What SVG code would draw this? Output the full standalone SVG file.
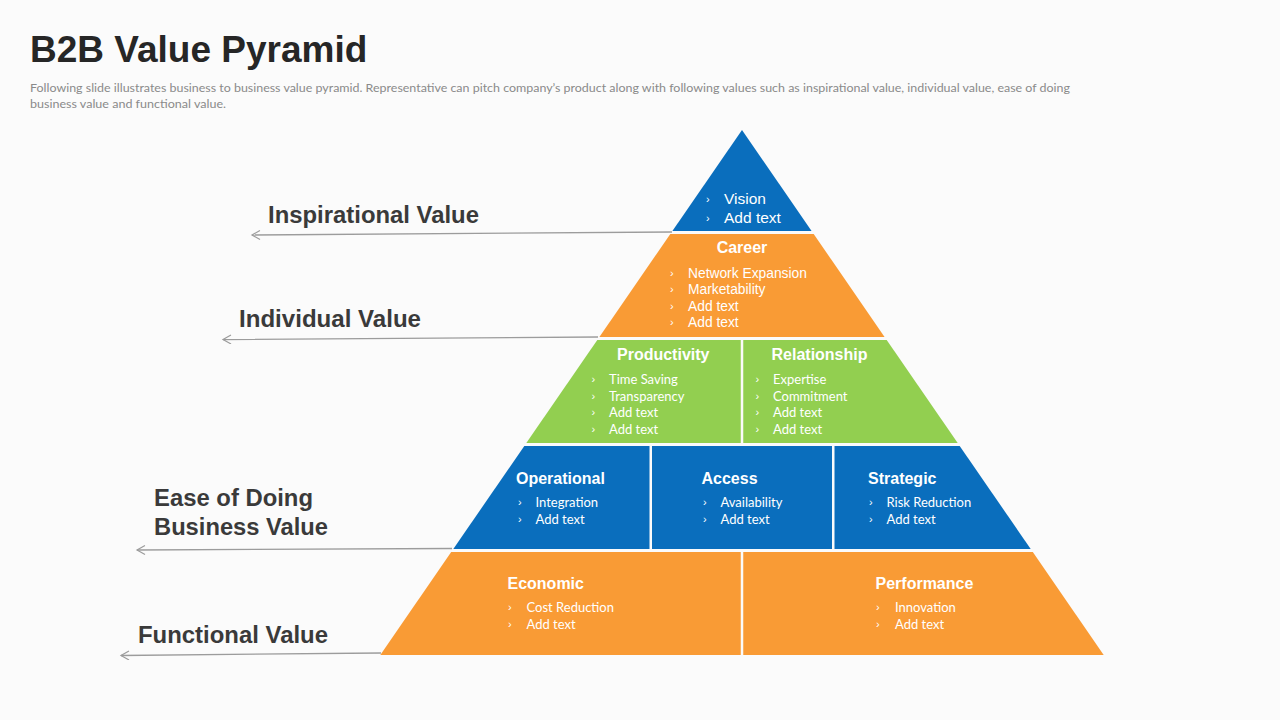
<svg xmlns="http://www.w3.org/2000/svg" width="1280" height="720" viewBox="0 0 1280 720">
<defs>
<style>
.title{font-family:"Liberation Sans",Arial,sans-serif;font-weight:bold;font-size:37px;fill:#262626}
.sub{font-family:Lato,"Liberation Sans",sans-serif;font-size:11.5px;fill:#8a8a8a}
.lbl{font-family:"Liberation Sans",Arial,sans-serif;font-weight:bold;font-size:23.5px;fill:#3a3a3a}
.hd{font-family:"Liberation Sans",Arial,sans-serif;font-weight:bold;font-size:16px;fill:#ffffff}
.it{font-family:"Liberation Sans",Arial,sans-serif;font-size:13.8px;fill:#ffffff}
.itv{font-family:"Liberation Sans",Arial,sans-serif;font-size:15.5px;fill:#ffffff}
.ic{font-family:Lato,"Liberation Sans",sans-serif;font-size:13px;fill:#ffffff}
.bu{font-family:"Liberation Sans",Arial,sans-serif;font-size:11px;fill:#ffffff}
.blue{fill:#0A6EBD}
.orange{fill:#F99B35}
.green{fill:#92CF50}
.conn{stroke:#9c9c9c;stroke-width:1.3;fill:none}
</style>
<marker id="arr" markerUnits="userSpaceOnUse" markerWidth="12" markerHeight="12" refX="9" refY="5" orient="auto">
<path d="M1,0.5 L9,5 L1,9.5" fill="none" stroke="#9c9c9c" stroke-width="1.2"/>
</marker>
</defs>
<rect x="0" y="0" width="1280" height="720" fill="#FBFBFB"/>

<g id="header">
<text class="title" x="30" y="62">B2B Value Pyramid</text>
<text class="sub" x="30" y="92" textLength="1040" lengthAdjust="spacingAndGlyphs">Following slide illustrates business to business value pyramid. Representative can pitch company’s product along with following values such as inspirational value, individual value, ease of doing</text>
<text class="sub" x="30" y="108" textLength="196" lengthAdjust="spacingAndGlyphs">business value and functional value.</text>
</g>

<g id="connectors">
<line class="conn" x1="672" y1="232" x2="252" y2="235" marker-end="url(#arr)"/>
<line class="conn" x1="598" y1="337" x2="223" y2="339.5" marker-end="url(#arr)"/>
<line class="conn" x1="452" y1="548.5" x2="137" y2="550" marker-end="url(#arr)"/>
<line class="conn" x1="381" y1="653" x2="121" y2="655.5" marker-end="url(#arr)"/>
</g>

<g id="label-inspirational"><text class="lbl" x="268" y="223" textLength="211" lengthAdjust="spacingAndGlyphs">Inspirational Value</text></g>
<g id="label-individual"><text class="lbl" x="239" y="327" textLength="182" lengthAdjust="spacingAndGlyphs">Individual Value</text></g>
<g id="label-ease">
<text class="lbl" x="154" y="506" textLength="159" lengthAdjust="spacingAndGlyphs">Ease of Doing</text>
<text class="lbl" x="154" y="534.5" textLength="174" lengthAdjust="spacingAndGlyphs">Business Value</text>
</g>
<g id="label-functional"><text class="lbl" x="138" y="643" textLength="190" lengthAdjust="spacingAndGlyphs">Functional Value</text></g>

<g id="vision">
<polygon class="blue" points="742,130 811.6,231 672.4,231"/>
<text class="bu" x="706" y="203">›</text><text class="itv" x="724" y="204">Vision</text>
<text class="bu" x="706" y="221.5">›</text><text class="itv" x="724" y="222.5">Add text</text>
</g>

<g id="career">
<polygon class="orange" points="670.3,234 813.7,234 884.6,337 599.4,337"/>
<text class="hd" x="742" y="253" text-anchor="middle">Career</text>
<text class="bu" x="670" y="277">›</text><text class="it" x="688" y="278">Network Expansion</text>
<text class="bu" x="670" y="293">›</text><text class="it" x="688" y="294">Marketability</text>
<text class="bu" x="670" y="309.5">›</text><text class="it" x="688" y="310.5">Add text</text>
<text class="bu" x="670" y="326">›</text><text class="it" x="688" y="327">Add text</text>
</g>

<g id="productivity">
<polygon class="green" points="597.3,340 740.75,340 740.75,443 526.3,443"/>
<text class="hd" x="617" y="359.5">Productivity</text>
<text class="bu" x="591.5" y="382.5">›</text><text class="ic" x="609" y="383.5">Time Saving</text>
<text class="bu" x="591.5" y="399.5">›</text><text class="ic" x="609" y="400.5">Transparency</text>
<text class="bu" x="591.5" y="416">›</text><text class="ic" x="609" y="417">Add text</text>
<text class="bu" x="591.5" y="433">›</text><text class="ic" x="609" y="434">Add text</text>
</g>

<g id="relationship">
<polygon class="green" points="743.25,340 886.7,340 957.7,443 743.25,443"/>
<text class="hd" x="771.5" y="359.5">Relationship</text>
<text class="bu" x="755.5" y="382.5">›</text><text class="ic" x="773" y="383.5">Expertise</text>
<text class="bu" x="755.5" y="399.5">›</text><text class="ic" x="773" y="400.5">Commitment</text>
<text class="bu" x="755.5" y="416">›</text><text class="ic" x="773" y="417">Add text</text>
<text class="bu" x="755.5" y="433">›</text><text class="ic" x="773" y="434">Add text</text>
</g>

<g id="operational">
<polygon class="blue" points="524.3,446 649.5,446 649.5,549 453.3,549"/>
<text class="hd" x="516" y="483.5">Operational</text>
<text class="bu" x="518" y="506">›</text><text class="ic" x="535.5" y="507">Integration</text>
<text class="bu" x="518" y="522.5">›</text><text class="ic" x="535.5" y="523.5">Add text</text>
</g>

<g id="access">
<polygon class="blue" points="652,446 832,446 832,549 652,549"/>
<text class="hd" x="701.5" y="483.5">Access</text>
<text class="bu" x="703" y="506">›</text><text class="ic" x="720.5" y="507">Availability</text>
<text class="bu" x="703" y="522.5">›</text><text class="ic" x="720.5" y="523.5">Add text</text>
</g>

<g id="strategic">
<polygon class="blue" points="834.5,446 959.7,446 1030.7,549 834.5,549"/>
<text class="hd" x="868" y="483.5">Strategic</text>
<text class="bu" x="869" y="506">›</text><text class="ic" x="886.5" y="507">Risk Reduction</text>
<text class="bu" x="869" y="522.5">›</text><text class="ic" x="886.5" y="523.5">Add text</text>
</g>

<g id="economic">
<polygon class="orange" points="451.2,552 740.75,552 740.75,655 380.3,655"/>
<text class="hd" x="507.5" y="588.5">Economic</text>
<text class="bu" x="508" y="610.5">›</text><text class="ic" x="526.5" y="611.5">Cost Reduction</text>
<text class="bu" x="508" y="627.5">›</text><text class="ic" x="526.5" y="628.5">Add text</text>
</g>

<g id="performance">
<polygon class="orange" points="743.25,552 1032.8,552 1103.7,655 743.25,655"/>
<text class="hd" x="875.5" y="588.5">Performance</text>
<text class="bu" x="876" y="610.5">›</text><text class="ic" x="895" y="611.5">Innovation</text>
<text class="bu" x="876" y="627.5">›</text><text class="ic" x="895" y="628.5">Add text</text>
</g>
</svg>
